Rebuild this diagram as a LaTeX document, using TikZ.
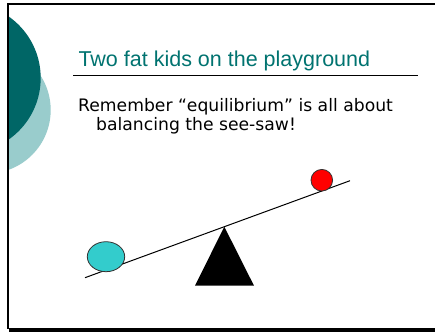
\documentclass[tikz,border=0pt]{standalone}
\usepackage{fontspec}
\usepackage{xcolor}
\usetikzlibrary{positioning}
\newfontfamily\titlefont{Liberation Sans}
\newfontfamily\bodyfont{DejaVu Sans}
\definecolor{darkteal}{RGB}{0,102,102}
\definecolor{paleteal}{RGB}{153,204,204}
\definecolor{titleteal}{RGB}{0,115,112}
\definecolor{kidcyan}{RGB}{51,204,204}
\definecolor{kidred}{RGB}{255,0,0}

\begin{document}
\begin{tikzpicture}[x=1pt,y=-1pt,line join=round]
\useasboundingbox (0,0) rectangle (435,332);

%% ── slide background and frame ───────────────────────────────────────────
\fill[white] (0,0) rectangle (435,332);
\begin{scope}
  \clip (8,4) rectangle (435,328.5);
  \fill[paleteal] (-12.8,110) circle (63.5);
  \fill[darkteal] (-34.4,78) circle (75.1);
\end{scope}
\draw[black,line width=1.6pt] (7.7,4) -- (435,4);
\draw[black,line width=2pt] (7.7,3.2) -- (7.7,328.5);
\fill[black] (9.3,328.3) rectangle (435,332);

%% ── title ────────────────────────────────────────────────────────────────
\node[anchor=base west,inner sep=0pt,font=\titlefont\fontsize{21.5}{24}\selectfont,titleteal]
  (title) at (78.3,66) {Two fat kids on the playground};
\draw[black,line width=1pt] (73.3,75) -- (418,75);

%% ── body text ────────────────────────────────────────────────────────────
\node[anchor=base west,inner sep=0pt,font=\bodyfont\fontsize{17.2}{20}\selectfont]
  (lineone) at (78,111) {Remember “equilibrium” is all about};
\node[anchor=base west,inner sep=0pt,font=\bodyfont\fontsize{17.2}{20}\selectfont]
  (linetwo) at (96,130.7) {balancing the see-saw!};

%% ── see-saw ──────────────────────────────────────────────────────────────
\coordinate (plankleft) at (85,277.7);
\coordinate (plankright) at (350,180.7);
\fill[black] (224.3,226.7) -- (254,285.7) -- (195,285.7) -- cycle;
\draw[black,line width=1pt] (plankleft) -- (plankright);

%% kids
\filldraw[fill=kidcyan,draw=black!80,line width=0.8pt]
  (106,256.7) ellipse (18.7 and 15);
\filldraw[fill=kidred,draw=black!80,line width=0.8pt]
  (321.8,180.2) circle (10.8);

\end{tikzpicture}
\end{document}
